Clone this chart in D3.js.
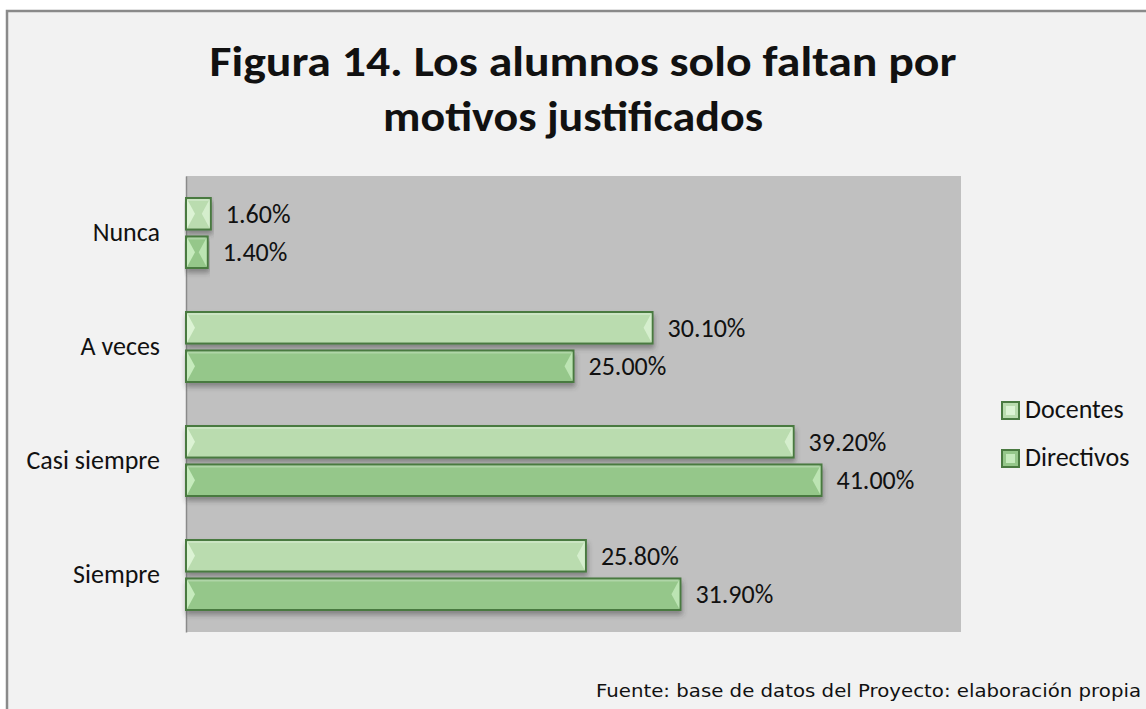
<!DOCTYPE html>
<html>
<head>
<meta charset="utf-8">
<script src="https://cdn.jsdelivr.net/npm/d3@7"></script>
<style>
  body { margin: 0; background: #ffffff; }
  text { font-family: Carlito, Calibri, Lato, sans-serif; fill: #111; }
</style>
</head>
<body>
<div id="chart"></div>
<script>
// data
var categories = ['Nunca', 'A veces', 'Casi siempre', 'Siempre'];
var seriesNames = ['Docentes', 'Directivos'];
var docentes = [0.016, 0.301, 0.392, 0.258];
var directivos = [0.014, 0.250, 0.410, 0.319];
var titleLines = ['Figura 14. Los alumnos solo faltan por', 'motivos justificados'];
var sourceText = 'Fuente: base de datos del Proyecto: elaboración propia';

var width = 1146, height = 709;
var plot = { left: 186, right: 961, top: 176, bottom: 632 };

var fills = { Docentes: '#badcaf', Directivos: '#95c78a' };
var lights = { Docentes: '#dcf3d4', Directivos: '#c6ebbd' };
var strokeCol = '#4a7a41';
var labelSize = 26;

var svg = d3.select('#chart').append('svg')
  .attr('width', width)
  .attr('height', height);

var defs = svg.append('defs');
var shadow = defs.append('filter').attr('id', 'shadow')
  .attr('x', '-5%').attr('y', '-30%').attr('width', '115%').attr('height', '180%');
shadow.append('feDropShadow')
  .attr('dx', 1).attr('dy', 4).attr('stdDeviation', 2.5)
  .attr('flood-color', '#3a3a3a').attr('flood-opacity', 0.45);

// chart area with border
svg.append('rect')
  .attr('x', 7).attr('y', 11)
  .attr('width', width + 20).attr('height', height + 20)
  .attr('fill', '#f2f2f2')
  .attr('stroke', '#8a8a8a')
  .attr('stroke-width', 2.5);

// title
svg.selectAll('.title')
  .data(titleLines)
  .enter().append('text')
  .attr('class', 'title')
  .attr('x', function(d, i) { return i == 0 ? 583 : 573; })
  .attr('y', function(d, i) { return 76 + i * 55; })
  .attr('text-anchor', 'middle')
  .attr('font-size', 42)
  .attr('font-weight', 'bold')
  .attr('textLength', function(d, i) { return i == 0 ? 747 : 380; })
  .attr('lengthAdjust', 'spacingAndGlyphs')
  .text(function(d) { return d; });

var x = d3.scaleLinear().domain([0, 0.5]).range([plot.left, plot.right]);
var y = d3.scaleBand().domain(categories)
  .range([plot.top, plot.bottom])
  .paddingInner(0.386).paddingOuter(0.193);
var ySub = d3.scaleBand().domain(seriesNames)
  .range([0, y.bandwidth()])
  .paddingInner(0.18);

// plot area
svg.append('rect')
  .attr('x', plot.left).attr('y', plot.top)
  .attr('width', plot.right - plot.left)
  .attr('height', plot.bottom - plot.top)
  .attr('fill', '#c0c0c0');

// category axis
var yAxis = svg.append('g')
  .attr('transform', 'translate(' + plot.left + ',0)')
  .call(d3.axisLeft(y).tickSize(0).tickPadding(26));
yAxis.select('.domain').attr('stroke', '#8a8a8a').attr('stroke-width', 1.5);
yAxis.selectAll('text')
  .attr('font-size', labelSize)
  .attr('font-family', 'Carlito, Calibri, Lato, sans-serif')
  .attr('fill', '#111');

var rows = [];
categories.forEach(function(c, i) {
  rows.push({ cat: c, series: 'Docentes', value: docentes[i] });
  rows.push({ cat: c, series: 'Directivos', value: directivos[i] });
});

var bars = svg.append('g').selectAll('g')
  .data(rows)
  .enter().append('g')
  .attr('transform', function(d) {
    return 'translate(0,' + (y(d.cat) + ySub(d.series)) + ')';
  });

var bh = ySub.bandwidth();

bars.append('rect')
  .attr('x', x(0))
  .attr('y', 0)
  .attr('width', function(d) { return x(d.value) - x(0); })
  .attr('height', bh)
  .attr('fill', function(d) { return fills[d.series]; })
  .attr('stroke', strokeCol)
  .attr('stroke-width', 2)
  .attr('filter', 'url(#shadow)');

// bevel highlights on both ends
bars.append('path')
  .attr('fill', function(d) { return lights[d.series]; })
  .attr('d', function(d) {
    var x0 = x(0) + 1, w = Math.min(8, (x(d.value) - x(0)) / 2 - 1);
    return 'M' + x0 + ',1 L' + (x0 + w) + ',' + (bh / 2) + ' L' + x0 + ',' + (bh - 1) + 'Z';
  });
bars.append('path')
  .attr('fill', function(d) { return lights[d.series]; })
  .attr('opacity', 0.8)
  .attr('d', function(d) {
    var x1 = x(d.value) - 1, w = Math.min(8, (x(d.value) - x(0)) / 2 - 1);
    return 'M' + x1 + ',1 L' + (x1 - w) + ',' + (bh / 2) + ' L' + x1 + ',' + (bh - 1) + 'Z';
  });
bars.append('line')
  .attr('x1', x(0) + 2)
  .attr('x2', function(d) { return x(d.value) - 2; })
  .attr('y1', 2).attr('y2', 2)
  .attr('stroke', '#ffffff')
  .attr('stroke-opacity', 0.25)
  .attr('stroke-width', 2);

// value labels
bars.append('text')
  .attr('x', function(d) { return x(d.value) + 15; })
  .attr('y', bh / 2)
  .attr('dy', '0.35em')
  .attr('font-size', labelSize)
  .text(function(d) { return d3.format('.2%')(d.value); });

// legend
var legend = svg.append('g').selectAll('g')
  .data(seriesNames)
  .enter().append('g')
  .attr('transform', function(d, i) { return 'translate(1002,' + (402 + i * 48) + ')'; });
legend.append('rect')
  .attr('width', 17).attr('height', 17)
  .attr('fill', function(d) { return fills[d]; })
  .attr('stroke', strokeCol)
  .attr('stroke-width', 2);
legend.append('rect')
  .attr('x', 4).attr('y', 4)
  .attr('width', 9).attr('height', 9)
  .attr('fill', function(d) { return lights[d]; });
legend.append('text')
  .attr('x', 23)
  .attr('y', 16)
  .attr('font-size', labelSize)
  .text(function(d) { return d; });

// source note
svg.append('text')
  .attr('x', 1141)
  .attr('y', 697)
  .attr('text-anchor', 'end')
  .attr('font-size', 18)
  .attr('textLength', 545)
  .attr('lengthAdjust', 'spacingAndGlyphs')
  .style('font-family', 'DejaVu Sans, Verdana, sans-serif')
  .text(sourceText);
</script>
</body>
</html>
